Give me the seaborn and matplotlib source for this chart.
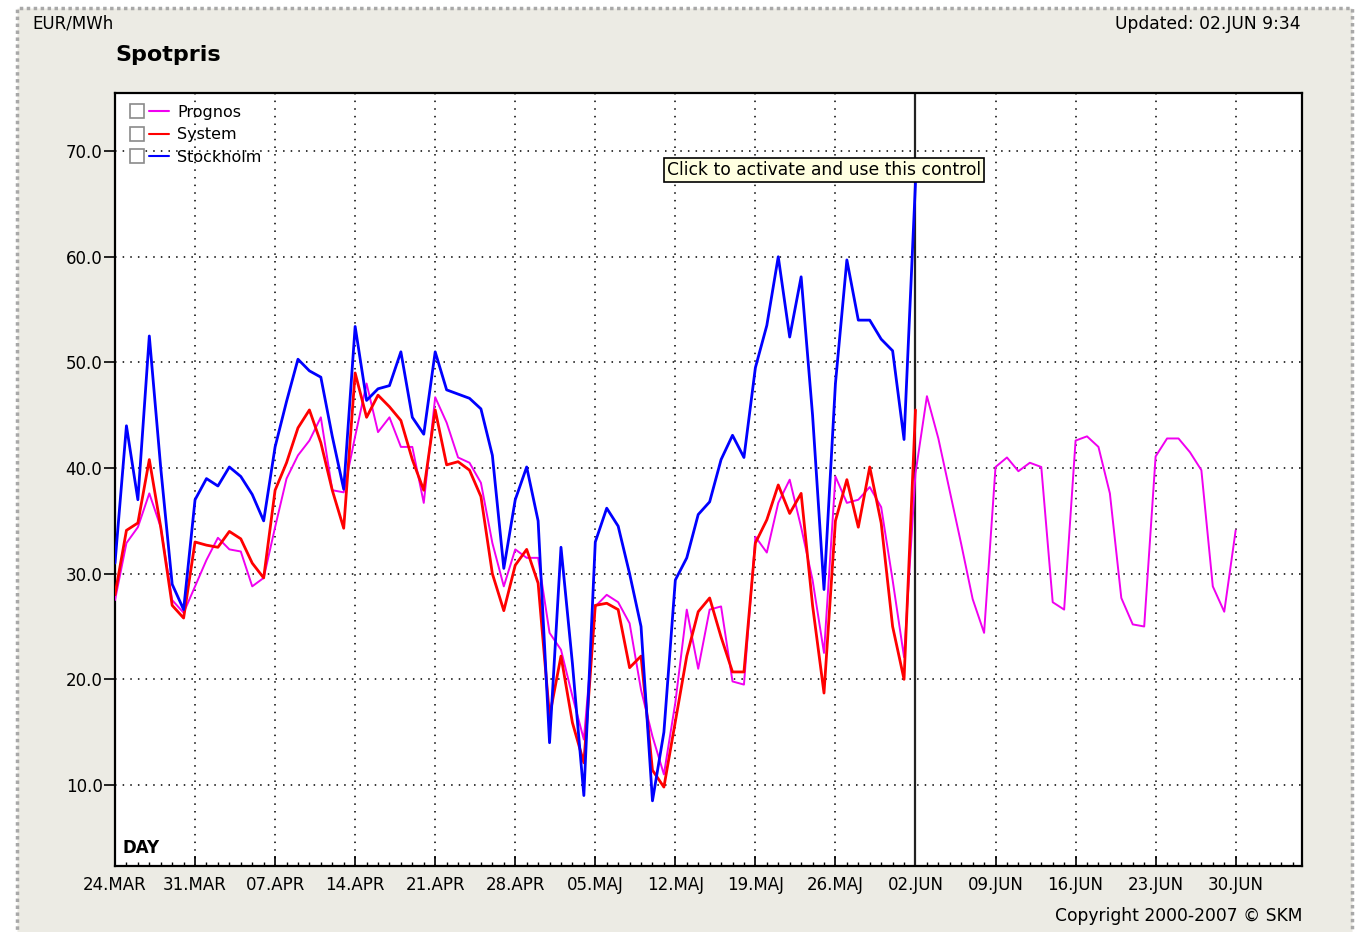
import numpy as np
import pandas as pd
import matplotlib
matplotlib.use('Agg')
import matplotlib.pyplot as plt
import seaborn as sns
from matplotlib.lines import Line2D
from matplotlib.patches import Rectangle
from matplotlib.legend_handler import HandlerTuple
from matplotlib.ticker import MultipleLocator, FormatStrFormatter

sns.set_style('white')
plt.rcParams['font.family'] = ['DejaVu Sans']
plt.rcParams['text.color'] = 'black'
plt.rcParams['xtick.color'] = 'black'
plt.rcParams['ytick.color'] = 'black'

# EUR/MWh per day, day 0 = 24.MAR
stockholm = [31, 44, 37, 52.5, 40, 29, 26.6, 37, 39, 38.3,
             40.1, 39.2, 37.5, 35, 42, 46.3, 50.3, 49.2, 48.6, 43,
             38, 53.4, 46.4, 47.5, 47.8, 51, 44.8, 43.2, 51, 47.4,
             47, 46.6, 45.6, 41.2, 30.5, 37, 40.1, 35, 14, 32.5,
             21.5, 9, 33, 36.2, 34.5, 30, 25, 8.5, 15, 29.4,
             31.5, 35.6, 36.8, 40.8, 43.1, 41, 49.5, 53.5, 60, 52.4,
             58.1, 45, 28.5, 48, 59.7, 54, 54, 52.2, 51.1, 42.7,
             67]
system = [28, 34.1, 34.8, 40.8, 34.4, 27, 25.8, 33, 32.7, 32.5,
          34, 33.3, 31, 29.6, 37.9, 40.5, 43.8, 45.5, 42.4, 37.9,
          34.3, 49, 44.8, 46.9, 45.8, 44.5, 40.8, 37.9, 45.5, 40.3,
          40.6, 39.8, 37.3, 30, 26.5, 30.8, 32.3, 29.1, 16.5, 22.2,
          15.9, 12.1, 27, 27.2, 26.6, 21.1, 22.2, 11.4, 9.8, 16,
          22.2, 26.4, 27.7, 24, 20.7, 20.7, 32.9, 35.1, 38.4, 35.7,
          37.6, 27, 18.7, 35, 38.9, 34.4, 40.1, 34.8, 25, 20,
          45.5]
prognos = [27.5, 32.9, 34.4, 37.6, 34.4, 27.5, 26.3, 28.8, 31.3, 33.4,
           32.3, 32.1, 28.8, 29.6, 34.4, 39, 41.2, 42.6, 44.8, 37.9,
           37.7, 43, 48, 43.4, 44.8, 42, 42, 36.7, 46.7, 44.3,
           41, 40.5, 38.6, 32.9, 28.8, 32.3, 31.5, 31.5, 24.4, 22.8,
           18.4, 14.3, 26.9, 28, 27.3, 25.3, 19, 14.6, 11, 17.8,
           26.6, 21, 26.6, 26.9, 19.8, 19.5, 33.5, 32, 36.7, 38.9,
           34.4, 29.4, 22.5, 39.2, 36.7, 37, 38.2, 36.3, 29.4, 22.1,
           39.5, 46.8, 42.8, 37.8, 32.8, 27.6, 24.4, 40.1, 41, 39.7,
           40.5, 40.1, 27.3, 26.6, 42.6, 43, 42, 37.6, 27.7, 25.2,
           25, 41.1, 42.8, 42.8, 41.5, 39.8, 28.8, 26.4, 34.1]

week_labels = ['24.MAR', '31.MAR', '07.APR', '14.APR', '21.APR', '28.APR', '05.MAJ',
               '12.MAJ', '19.MAJ', '26.MAJ', '02.JUN', '09.JUN', '16.JUN', '23.JUN', '30.JUN']
today = 70  # 02.JUN

series = [('Prognos', prognos, '#f000f0', 1.4),
          ('System', system, '#ff0000', 2.0),
          ('Stockholm', stockholm, '#0000ff', 2.0)]

frames = []
for name, vals, _, _ in series:
    frames.append(pd.DataFrame({'day': np.arange(len(vals)), 'price': vals, 'serie': name}))
df = pd.concat(frames, ignore_index=True)

W, H = 1358, 932
fig = plt.figure(figsize=(W / 100, H / 100), dpi=100, facecolor='white')
fig.add_artist(Rectangle((17 / W, -0.01), (1352 - 17) / W, 1 - 8 / H + 0.01,
                         transform=fig.transFigure, facecolor='#ecebe4',
                         edgecolor='#a8a8a8', lw=2.5, ls=(0, (1, 1)), zorder=-10))

ax = fig.add_axes([115 / W, 1 - 866 / H, (1302 - 115) / W, (866 - 93) / H])
ax.set_facecolor('white')

ax.axvline(today, color='#222222', lw=1.6, zorder=1.5)
for name, _, color, lw in series:
    sns.lineplot(data=df[df.serie == name], x='day', y='price', color=color,
                 lw=lw, ax=ax, legend=False, zorder=3)

ax.set_xlim(0, 103.8)
ax.set_ylim(2.33, 75.5)
ax.set_xticks(np.arange(0, 7 * len(week_labels), 7), labels=week_labels)
ax.xaxis.set_minor_locator(MultipleLocator(1))
ax.set_yticks([10, 20, 30, 40, 50, 60, 70])
ax.yaxis.set_major_formatter(FormatStrFormatter('%.1f'))
ax.set_xlabel('')
ax.set_ylabel('')

ax.grid(True, which='major', color='black', linestyle=(0, (1, 4)), lw=1.1)
ax.set_axisbelow(True)
ax.tick_params(axis='x', which='major', direction='in', length=7, width=1.2,
               labelsize=12, pad=7, bottom=True)
ax.tick_params(axis='x', which='minor', direction='in', length=3, width=1, bottom=True)
ax.tick_params(axis='y', which='major', direction='out', length=8, width=1.2,
               labelsize=12, pad=1, left=True)
for s in ax.spines.values():
    s.set_color('black')
    s.set_linewidth(1.6)

# legend with checkbox + line
handles = []
for name, _, color, _ in series:
    box = Line2D([], [], marker='s', markersize=10, mfc='white', mec='#8a8a8a',
                 mew=1.2, ls='none')
    handles.append((box, Line2D([], [], color=color, lw=1.5)))
ax.legend(handles, [s[0] for s in series], handler_map={tuple: HandlerTuple(ndivide=None, pad=0.15)},
          loc='upper left', bbox_to_anchor=(0, 1), frameon=False, fontsize=11.5,
          handlelength=2.6, handletextpad=0.55, labelspacing=0.47, borderaxespad=0.4,
          borderpad=0.35)

ax.text(0.597, 0.90, 'Click to activate and use this control', transform=ax.transAxes,
        ha='center', va='center', fontsize=12.3, zorder=10,
        bbox=dict(boxstyle='square,pad=0.18', facecolor='#ffffe1', edgecolor='black', lw=1.2))
ax.text(0.006, 0.012, 'DAY', transform=ax.transAxes, ha='left', va='bottom',
        fontsize=12, fontweight='bold')

fig.text(32 / W, 1 - 24 / H, 'EUR/MWh', ha='left', va='center', fontsize=12)
fig.text(1301 / W, 1 - 24 / H, 'Updated: 02.JUN 9:34', ha='right', va='center', fontsize=12.3)
fig.text(115 / W, 1 - 55 / H, 'Spotpris', ha='left', va='center', fontsize=16, fontweight='bold')
fig.text(1302 / W, 1 - 916 / H, 'Copyright 2000-2007 \u00a9 SKM', ha='right', va='center', fontsize=12.3)

fig.savefig('out.png', dpi=100, facecolor=fig.get_facecolor())
